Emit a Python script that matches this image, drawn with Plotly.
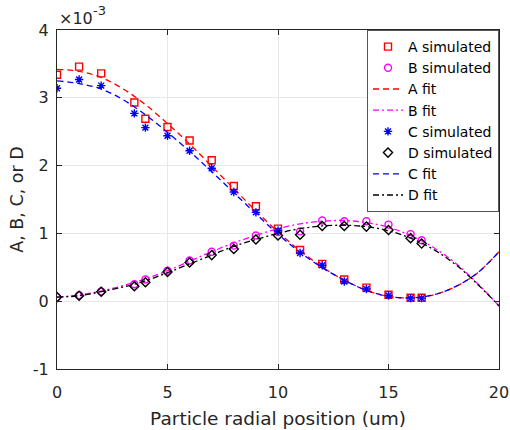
import plotly.graph_objects as go

# Simulated data (values in units of 1e-3)
x_sim = [0, 1, 2, 3.5, 4, 5, 6, 7, 8, 9, 10, 11, 12, 13, 14, 15, 16, 16.5]
a_sim = [3.34, 3.46, 3.36, 2.93, 2.69, 2.57, 2.37, 2.08, 1.70, 1.40, 1.07, 0.755, 0.55, 0.32, 0.20, 0.095, 0.05, 0.05]
b_sim = [0.06, 0.09, 0.145, 0.25, 0.32, 0.45, 0.60, 0.73, 0.82, 0.97, 1.02, 1.03, 1.19, 1.18, 1.18, 1.13, 0.99, 0.90]
c_sim = [3.14, 3.27, 3.18, 2.77, 2.56, 2.44, 2.22, 1.96, 1.61, 1.31, 1.04, 0.71, 0.53, 0.29, 0.18, 0.085, 0.045, 0.045]
d_sim = [0.06, 0.08, 0.14, 0.22, 0.28, 0.43, 0.57, 0.68, 0.77, 0.91, 0.97, 0.98, 1.11, 1.11, 1.10, 1.05, 0.93, 0.85]

# Fitted curves
x_fit = list(range(0, 21))
a_fit = [3.42, 3.39, 3.30, 3.13, 2.90, 2.62, 2.32, 1.99, 1.66, 1.33, 1.02, 0.745, 0.505, 0.31, 0.16, 0.07, 0.05, 0.09, 0.21, 0.41, 0.73]
b_fit = [0.06, 0.09, 0.15, 0.23, 0.33, 0.45, 0.59, 0.73, 0.86, 0.97, 1.07, 1.14, 1.18, 1.19, 1.16, 1.09, 0.97, 0.80, 0.57, 0.27, -0.07]
c_fit = [3.25, 3.21, 3.13, 2.97, 2.75, 2.49, 2.21, 1.91, 1.60, 1.29, 0.99, 0.72, 0.495, 0.31, 0.16, 0.07, 0.05, 0.09, 0.21, 0.41, 0.73]
d_fit = [0.06, 0.08, 0.14, 0.21, 0.30, 0.42, 0.55, 0.68, 0.81, 0.91, 1.00, 1.07, 1.11, 1.12, 1.10, 1.04, 0.93, 0.77, 0.55, 0.26, -0.07]

x_ticks = [0, 5, 10, 15, 20]
x_ticktext = ["0", "5", "10", "15", "20"]
y_ticks = [-1, 0, 1, 2, 3, 4]
y_ticktext = ["-1", "0", "1", "2", "3", "4"]

FONT = "DejaVu Sans, sans-serif"
fig = go.Figure()

def sim(y, name, color, symbol):
    fig.add_trace(go.Scatter(x=x_sim, y=y, mode="markers", name=name,
                             marker=dict(symbol=symbol, size=7, color=color,
                                         line=dict(color=color, width=1.4))))

def fit(y, name, color, dash):
    fig.add_trace(go.Scatter(x=x_fit, y=y, mode="lines", name=name,
                             line=dict(color=color, width=1.3, dash=dash, shape="spline")))

DASH = "6px,4px"
DASHDOT = "6px,3px,2px,3px"
sim(a_sim, "A simulated", "#ff0000", "square-open")
sim(b_sim, "B simulated", "#ff00ff", "circle-open")
fit(a_fit, "A fit", "#ff0000", DASH)
fit(b_fit, "B fit", "#ff00ff", DASHDOT)
sim(c_sim, "C simulated", "#0000ff", "asterisk-open")
sim(d_sim, "D simulated", "#000000", "diamond-open")
fit(c_fit, "C fit", "#0000ff", DASH)
fit(d_fit, "D fit", "#000000", DASHDOT)

axis_common = dict(showline=True, linecolor="#262626", linewidth=1, mirror="ticks",
                   ticks="inside", ticklen=5, tickcolor="#262626", automargin=False,
                   showgrid=True, gridcolor="#e8e8e8", gridwidth=1, zeroline=False,
                   tickfont=dict(family=FONT, size=16, color="#262626"))

fig.update_layout(
    width=510, height=430,
    margin=dict(l=57, r=11, t=30, b=61),
    paper_bgcolor="white", plot_bgcolor="white",
    font=dict(family=FONT, color="#262626"),
    xaxis=dict(range=[0, 20], tickvals=x_ticks, ticktext=x_ticktext, ticklabelstandoff=9,
               title=dict(text="Particle radial position (um)", font=dict(size=18.5), standoff=10),
               **axis_common),
    yaxis=dict(range=[-1, 4], tickvals=y_ticks, ticktext=y_ticktext, ticklabelstandoff=4,
               title=dict(text="A, B, C, or D", font=dict(size=17.5), standoff=4),
               **axis_common),
    legend=dict(x=1.0, xanchor="right", y=1.0, yanchor="top",
                bgcolor="white", bordercolor="#555555", borderwidth=1,
                font=dict(family=FONT, size=14, color="#000000"),
                tracegroupgap=0, itemwidth=30),
    annotations=[
        dict(text="×10", x=0, y=1, xref="paper", yref="paper",
             xanchor="left", yanchor="bottom", showarrow=False, xshift=0,
             font=dict(family=FONT, size=16, color="#262626"), yshift=0),
        dict(text="-3", x=0, y=1, xref="paper", yref="paper",
             xanchor="left", yanchor="bottom", showarrow=False, xshift=34,
             font=dict(family=FONT, size=13, color="#262626"), yshift=10),
    ],
)

fig.write_html("out.html", config={"displayModeBar": False},
               post_script="document.body.style.margin='0';")
